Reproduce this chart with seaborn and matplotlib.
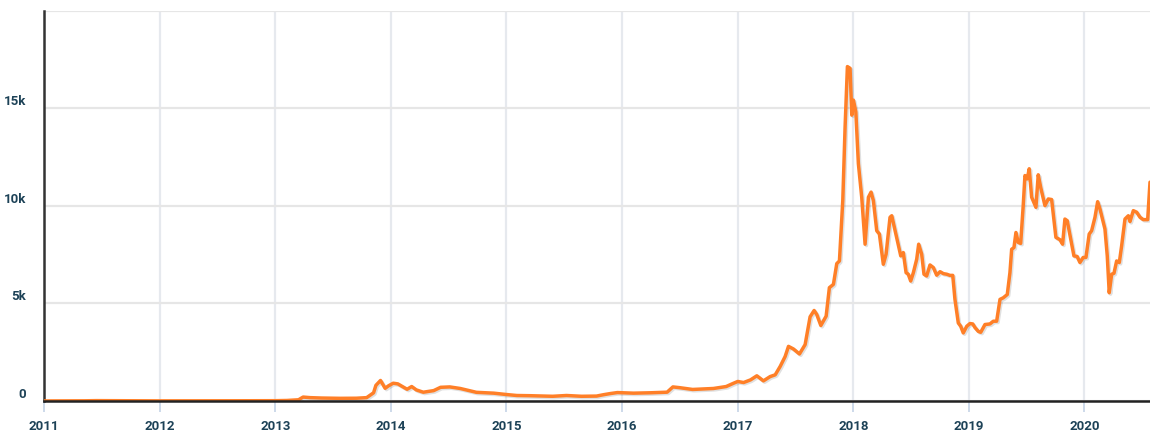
import pandas as pd
import seaborn as sns
import matplotlib.pyplot as plt
import matplotlib.dates as mdates
import matplotlib.patheffects as pe
from matplotlib.ticker import FuncFormatter

# weekly-ish price readings, decimal year -> USD
year_frac = [
    2011.00, 2011.10, 2011.25, 2011.35, 2011.45, 2011.55, 2011.70, 2011.85,
    2012.00, 2012.20, 2012.40, 2012.60, 2012.75, 2012.90, 2013.00, 2013.10,
    2013.20, 2013.24, 2013.30, 2013.40, 2013.56, 2013.70, 2013.79, 2013.85,
    2013.87, 2013.91, 2013.95, 2013.98, 2014.02, 2014.06, 2014.14, 2014.18,
    2014.22, 2014.28, 2014.37, 2014.43, 2014.51, 2014.60, 2014.74, 2014.89,
    2015.00, 2015.09, 2015.20, 2015.40, 2015.52, 2015.65, 2015.78, 2015.84,
    2015.90, 2015.96, 2016.10, 2016.25, 2016.39, 2016.44, 2016.50, 2016.61,
    2016.79, 2016.90, 2016.96, 2017.00, 2017.05, 2017.11, 2017.165, 2017.222,
    2017.28, 2017.324, 2017.367, 2017.41, 2017.439, 2017.482, 2017.534, 2017.583,
    2017.626, 2017.661, 2017.684, 2017.719, 2017.765, 2017.793, 2017.828, 2017.857,
    2017.88, 2017.909, 2017.929, 2017.949, 2017.972, 2017.987, 2018.001, 2018.022,
    2018.044, 2018.073, 2018.102, 2018.131, 2018.154, 2018.174, 2018.203, 2018.226,
    2018.26, 2018.284, 2018.318, 2018.333, 2018.362, 2018.411, 2018.433, 2018.457,
    2018.476, 2018.497, 2018.52, 2018.549, 2018.566, 2018.592, 2018.612, 2018.635,
    2018.664, 2018.693, 2018.722, 2018.751, 2018.78, 2018.809, 2018.837, 2018.861,
    2018.88, 2018.909, 2018.93, 2018.952, 2018.982, 2019.01, 2019.034, 2019.054,
    2019.082, 2019.103, 2019.14, 2019.183, 2019.212, 2019.241, 2019.27, 2019.298,
    2019.333, 2019.356, 2019.371, 2019.391, 2019.408, 2019.428, 2019.449, 2019.471,
    2019.486, 2019.506, 2019.523, 2019.544, 2019.581, 2019.601, 2019.622, 2019.659,
    2019.688, 2019.717, 2019.754, 2019.789, 2019.812, 2019.832, 2019.852, 2019.91,
    2019.938, 2019.962, 2019.99, 2020.014, 2020.042, 2020.063, 2020.092, 2020.115,
    2020.135, 2020.178, 2020.198, 2020.215, 2020.236, 2020.256, 2020.279, 2020.302,
    2020.322, 2020.351, 2020.38, 2020.394, 2020.423, 2020.452, 2020.481, 2020.509,
    2020.547, 2020.567,
]
price_usd = [
    0.3, 1, 0.9, 8, 17, 14, 5, 3,
    5, 5, 5, 9, 12, 13, 14, 25,
    60, 200, 170, 150, 135, 140, 170, 420,
    800, 1050, 650, 780, 910, 876, 600, 740,
    567, 448, 530, 700, 720, 640, 443, 400,
    330, 280, 270, 240, 280, 240, 250, 320,
    380, 430, 400, 420, 450, 720, 680, 590,
    640, 740, 900, 1000, 945, 1080, 1290, 1030,
    1250, 1340, 1770, 2280, 2800, 2665, 2410, 2890,
    4315, 4640, 4430, 3870, 4350, 5810, 5980, 7045,
    7180, 10275, 14060, 17150, 17060, 14660, 15430, 14830,
    12170, 10450, 8040, 10450, 10710, 10275, 8730, 8560,
    7010, 7530, 9420, 9500, 8730, 7440, 7610, 6580,
    6500, 6150, 6580, 7270, 8040, 7530, 6500, 6410,
    6975, 6840, 6450, 6630, 6530, 6500, 6440, 6440,
    5210, 4000, 3830, 3490, 3830, 3970, 3950, 3760,
    3570, 3520, 3920, 3950, 4090, 4090, 5210, 5290,
    5460, 6580, 7780, 7870, 8640, 8130, 8080, 10020,
    11560, 11390, 11910, 10450, 9930, 11600, 10960, 10020,
    10360, 10330, 8390, 8270, 8040, 9330, 9245, 7440,
    7410, 7100, 7360, 7360, 8560, 8730, 9420, 10220,
    9850, 8820, 7440, 5550, 6500, 6550, 7180, 7100,
    7950, 9330, 9500, 9200, 9760, 9680, 9420, 9300,
    9300, 11220,
]
y_ticks = [0, 5000, 10000, 15000, 20000]
x_start = 2011.0
x_end = 2020.567

LINE_COLOR = '#ff7f27'
TEXT_COLOR = '#1d4257'


def to_date(yf):
    year = int(yf)
    start = pd.Timestamp(year=year, month=1, day=1)
    days = (pd.Timestamp(year=year + 1, month=1, day=1) - start).days
    return start + pd.Timedelta(days=(yf - year) * days)


def k_label(v, pos):
    if v >= 20000:
        return ''
    if v == 0:
        return '0'
    return '{:d}k'.format(int(v / 1000))


df = pd.DataFrame({'date': [to_date(v) for v in year_frac], 'price': price_usd})

sns.set_style('white')
plt.rcParams['font.family'] = ['Roboto', 'DejaVu Sans']

fig = plt.figure(figsize=(11.5, 4.33), dpi=100)
ax = fig.add_axes([0.0383, 0.074, 0.9617, 0.9006])

sns.lineplot(data=df, x='date', y='price', ax=ax, color=LINE_COLOR, linewidth=2.5,
             path_effects=[pe.SimpleLineShadow(offset=(1, -1), alpha=0.12), pe.Normal()],
             zorder=3)

ax.set_xlim(to_date(x_start), to_date(x_end))
ax.set_ylim(0, 20000)
ax.set_yticks(y_ticks)
ax.yaxis.set_major_formatter(FuncFormatter(k_label))
ax.xaxis.set_major_locator(mdates.YearLocator())
ax.xaxis.set_major_formatter(mdates.DateFormatter('%Y'))

ax.grid(axis='y', color='#e6e6e6', linewidth=1.6)
ax.grid(axis='x', color='#e6e9ee', linewidth=1.6)
ax.set_axisbelow(True)

for side in ['top', 'right']:
    ax.spines[side].set_visible(False)
ax.spines['left'].set_color('#333333')
ax.spines['left'].set_linewidth(1.8)
ax.spines['bottom'].set_color('#222222')
ax.spines['bottom'].set_linewidth(1.8)
ax.spines['bottom'].set_zorder(4)

ax.tick_params(axis='x', length=8, width=1.4, color='#cdd9ea', pad=6,
               labelsize=9.5, labelcolor=TEXT_COLOR, bottom=True)
ax.tick_params(axis='y', length=0, pad=13, labelsize=9.5, labelcolor=TEXT_COLOR)
for lab in ax.get_xticklabels() + ax.get_yticklabels():
    lab.set_fontweight('bold')
for lab in ax.get_yticklabels():
    lab.set_verticalalignment('bottom')

ax.set_xlabel('')
ax.set_ylabel('')

fig.savefig('out.png', dpi=100)
